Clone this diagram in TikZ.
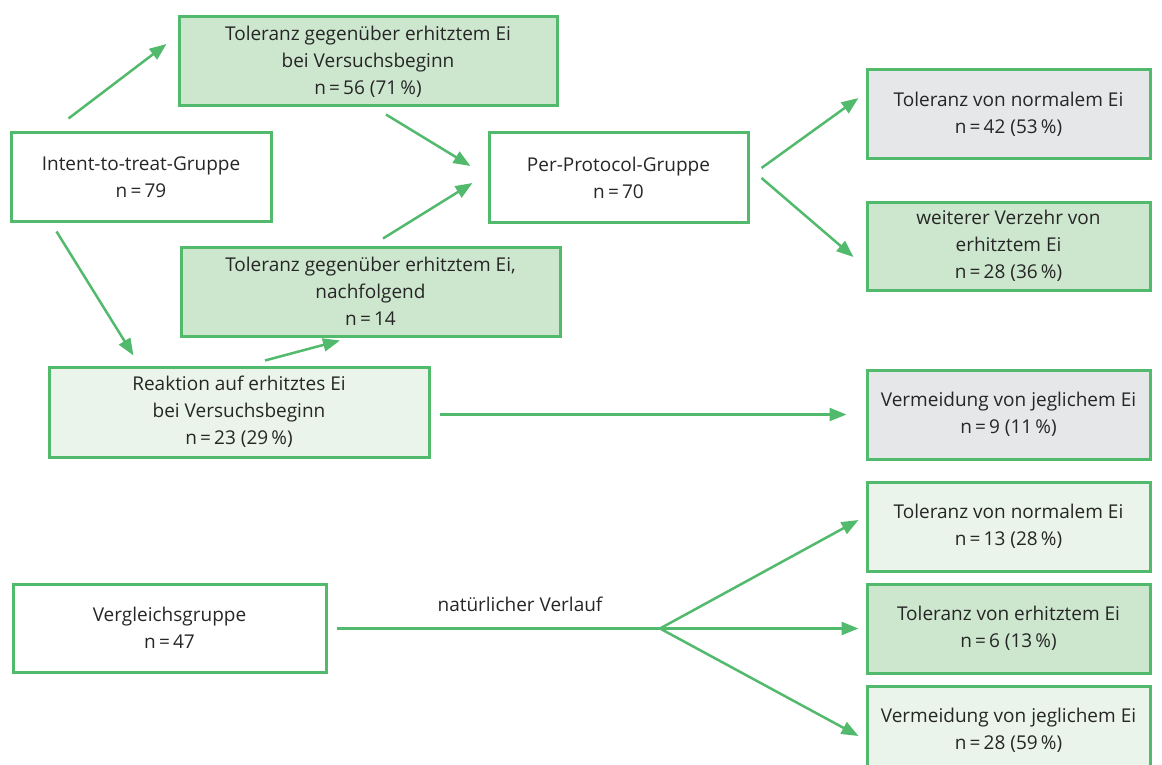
\documentclass[tikz,border=0pt]{standalone}
\usepackage{fontspec}
\setmainfont{Open Sans}
\usepackage{xcolor}
\usepackage{tikz}
\usetikzlibrary{calc, arrows.meta, positioning}
\definecolor{eigreen}{RGB}{82,186,108}
\definecolor{eidark}{RGB}{205,230,206}
\definecolor{eilight}{RGB}{234,244,234}
\definecolor{eigray}{RGB}{230,231,233}
\tikzset{
    boxnode/.style = {draw=eigreen, line width=1.5pt, rectangle, inner sep=0pt, 
      align=center, text=black!85, font=\fontsize{9.5}{13.5}\selectfont},
    whitenode/.style = {boxnode, fill=white},
    darknode/.style = {boxnode, fill=eidark},
    lightnode/.style = {boxnode, fill=eilight},
    graynode/.style = {boxnode, fill=eigray},
    textnode/.style = {draw=none, fill=none, inner sep=0pt, text=black!85, 
      font=\fontsize{9.5}{13.5}\selectfont},
    connect/.style = {eigreen, line width=1.25pt, -{Triangle[length=8.5pt,width=6.5pt]}},
    plainline/.style = {eigreen, line width=1.25pt}
}
\begin{document}
\begin{tikzpicture}[x=0.5pt, y=-0.5pt]
\useasboundingbox (0,0) rectangle (1162,765);
% Intent-to-treat
\node [whitenode, minimum width=130pt, minimum height=44pt] (itt) at (141,177) 
{Intent-to-treat-Gruppe\\n\,=\,79};
\node [darknode, minimum width=189pt, minimum height=44.5pt] (tolstart) at (368,61.5) 
{Toleranz gegenüber erhitztem Ei\\bei Versuchsbeginn\\n\,=\,56 (71\,\%)};
\node [darknode, minimum width=189.5pt, minimum height=44.5pt] (tolnach) at (370.5,291.5) 
{Toleranz gegenüber erhitztem Ei,\\nachfolgend\\n\,=\,14};
\node [lightnode, minimum width=190pt, minimum height=45pt] (reaktion) at (239,412) 
{Reaktion auf erhitztes Ei\\bei Versuchsbeginn\\n\,=\,23 (29\,\%)};
\node [whitenode, minimum width=129.5pt, minimum height=44.5pt] (pp) at (618.5,177.5) 
{Per-Protocol-Gruppe\\n\,=\,70};

% Ergebnisse rechts
\node [graynode, minimum width=141.5pt, minimum height=44.5pt] (normal) at (1008.5,114.5) 
{Toleranz von normalem Ei\\n\,=\,42 (53\,\%)};
\node [darknode, minimum width=141.5pt, minimum height=44pt] (verzehr) at (1008.5,246) 
{weiterer Verzehr von\\erhitztem Ei\\n\,=\,28 (36\,\%)};
\node [graynode, minimum width=141.5pt, minimum height=44.5pt] (meidung) at (1008.5,414.5) 
{Vermeidung von jeglichem Ei\\n\,=\,9 (11\,\%)};

% Vergleichsgruppe
\node [whitenode, minimum width=156.5pt, minimum height=44pt] (vergleich) at (169.5,628) 
{Vergleichsgruppe\\n\,=\,47};
\node [lightnode, minimum width=141.5pt, minimum height=44.5pt] (vnormal) at (1008.5,526.5) 
{Toleranz von normalem Ei\\n\,=\,13 (28\,\%)};
\node [darknode, minimum width=141.5pt, minimum height=44.5pt] (verhitzt) at (1008.5,628.5) 
{Toleranz von erhitztem Ei\\n\,=\,6 (13\,\%)};
\node [lightnode, minimum width=141.5pt, minimum height=44.5pt] (vmeidung) at (1008.5,730.5) 
{Vermeidung von jeglichem Ei\\n\,=\,28 (59\,\%)};
\node [textnode] (verlauf) at (520,604) {natürlicher Verlauf};
\coordinate (fork) at (660,628.5);

\draw [connect] ([shift={(59,-13)}]itt.north west) -- ([shift={(-11,-17.5)}]tolstart.west);
\draw [connect] ([shift={(47,9)}]itt.south west) -- ([shift={(86,-10)}]reaktion.north west);
\draw [connect] ([shift={(18,7)}]tolstart.south) -- ([shift={(-17,-11.5)}]pp.west);
\draw [connect] ([shift={(12.5,-7)}]tolnach.north) -- ([shift={(-15,5.5)}]pp.west);
\draw [connect] ([shift={(26,-5)}]reaktion.north) -- ([shift={(-30.5,3)}]tolnach.south);
\draw [connect] ([shift={(9,2.5)}]reaktion.east) -- ([shift={(-19,0)}]meidung.west);
\draw [connect] ([shift={(12,-9.5)}]pp.east) -- ([shift={(-7,-16.5)}]normal.west);
\draw [connect] ([shift={(12,0.5)}]pp.east) -- ([shift={(-12,11)}]verzehr.west);

\draw [plainline] ([shift={(9,0.5)}]vergleich.east) -- (fork);
\draw [connect] (fork) -- ([shift={(-7,-6.5)}]vnormal.west);
\draw [connect] (fork) -- ([shift={(-7,0)}]verhitzt.west);
\draw [connect] (fork) -- ([shift={(-7,5.5)}]vmeidung.west);
\end{tikzpicture}
\end{document}
